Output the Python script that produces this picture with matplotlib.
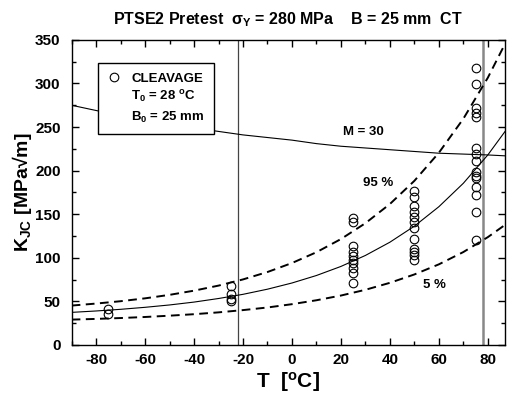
import matplotlib
matplotlib.use("Agg")
import matplotlib.pyplot as plt
from matplotlib.lines import Line2D
from matplotlib.ticker import MultipleLocator

plt.rcParams["font.family"] = ["Liberation Sans", "DejaVu Sans"]
plt.rcParams["font.weight"] = "bold"
plt.rcParams["axes.unicode_minus"] = False
plt.rcParams["mathtext.fontset"] = "custom"
plt.rcParams["mathtext.rm"] = "Liberation Sans"
plt.rcParams["mathtext.bf"] = "Liberation Sans:bold"
plt.rcParams["mathtext.it"] = "Liberation Sans:italic"

# measured cleavage data, T [C] / K_JC [MPa sqrt(m)]
t_m75 = [-75, -75]
k_m75 = [36, 41]
t_m25 = [-25, -25, -25, -25]
k_m25 = [50, 53, 58, 68]
t_25 = [25] * 10
k_25 = [71, 83, 88, 94, 98, 102, 107, 113, 141, 146]
t_50 = [50] * 12
k_50 = [98, 103, 107, 110, 122, 134, 141, 147, 153, 160, 170, 177]
t_75 = [75] * 15
k_75 = [121, 153, 172, 181, 191, 194, 198, 211, 219, 226, 261, 266, 272, 299, 318]

# curves
curve_t = [-90, -80, -70, -60, -50, -40, -30, -20, -10, 0, 10, 20, 30, 40, 50, 60, 70, 80, 87]
median_k = [37.4, 39.0, 40.9, 43.2, 45.9, 49.2, 53.3, 58.1, 64.0, 71.1, 79.7, 90.1,
            102.7, 117.9, 136.3, 158.6, 185.5, 218.0, 244.8]
p05_k = [29.1, 29.9, 30.9, 32.1, 33.6, 35.3, 37.4, 40.0, 43.0, 46.8, 51.3, 56.7,
         63.3, 71.3, 80.9, 92.5, 106.6, 123.7, 137.7]
p95_k = [45.2, 47.5, 50.2, 53.5, 57.5, 62.3, 68.1, 75.2, 83.7, 94.0, 106.4, 121.5,
         139.7, 161.7, 188.3, 220.5, 259.5, 306.6, 345.3]
m30_k = [275, 269, 263, 258, 253, 249, 245, 241, 238, 235, 231, 228, 226, 224, 222,
         220, 219, 218, 217]

t0_minus50 = -22
t0_plus50 = 78

fig = plt.figure(figsize=(5.08, 4.03), dpi=100)
ax = fig.add_axes([0.141, 0.144, 0.853, 0.757])

ax.axvline(t0_minus50, color="#444444", lw=0.9)
ax.axvline(t0_plus50, color="#888888", lw=1.8)

ax.plot(curve_t, m30_k, color="black", lw=0.8)
ax.plot(curve_t, median_k, color="black", lw=0.8)
ax.plot(curve_t, p05_k, color="black", lw=1.4, linestyle=(0, (4.5, 2.8)))
ax.plot(curve_t, p95_k, color="black", lw=1.4, linestyle=(0, (4.5, 2.8)))

for tt, kk in [(t_m75, k_m75), (t_m25, k_m25), (t_25, k_25), (t_50, k_50), (t_75, k_75)]:
    ax.plot(tt, kk, "o", ms=6.2, mfc="none", mec="black", mew=0.8, clip_on=False)

ax.text(29, 244, "M = 30", fontsize=9.5, fontweight="bold", ha="center", va="center")
ax.text(35, 186, "95 %", fontsize=9.5, fontweight="bold", ha="center", va="center")
ax.text(58, 69, "5 %", fontsize=9.5, fontweight="bold", ha="center", va="center")

handles = [
    Line2D([], [], marker="o", ls="none", ms=6.2, mfc="none", mec="black", mew=0.8),
    Line2D([], [], ls="none"),
    Line2D([], [], ls="none"),
]
labels = ["CLEAVAGE", "T$_\\mathbf{0}$ = 28 $^\\mathbf{o}$C", "B$_\\mathbf{0}$ = 25 mm"]
leg = ax.legend(handles, labels, loc="upper left", bbox_to_anchor=(0.061, 0.924),
                borderaxespad=0, fancybox=False, framealpha=1, edgecolor="black",
                handlelength=1.0, handletextpad=0.8, labelspacing=0.35,
                borderpad=0.7, prop={"size": 9.5, "weight": "bold"})
leg.get_frame().set_linewidth(1.0)

ax.set_xlim(-90, 87)
ax.set_ylim(0, 350)
ax.xaxis.set_major_locator(MultipleLocator(20))
ax.xaxis.set_minor_locator(MultipleLocator(10))
ax.yaxis.set_major_locator(MultipleLocator(50))
ax.yaxis.set_minor_locator(MultipleLocator(25))
ax.tick_params(which="both", direction="in", top=True, right=True, width=1.0, labelsize=11)
ax.tick_params(which="major", length=5)
ax.tick_params(which="minor", length=3)
ax.tick_params(axis="y", which="major", pad=8)
ax.tick_params(axis="x", which="major", pad=6)
for lab in ax.get_xticklabels() + ax.get_yticklabels():
    lab.set_fontweight("bold")
for sp in ax.spines.values():
    sp.set_linewidth(1.0)

ax.set_xlabel("T  [$^\\mathbf{o}$C]", fontsize=15, fontweight="bold", labelpad=2)
ax.set_ylabel("K$_\\mathbf{JC}$ [MPa√m]", fontsize=14, fontweight="bold", labelpad=1)
ax.set_title("PTSE2 Pretest  σ$_\\mathbf{Y}$ = 280 MPa    B = 25 mm  CT",
             fontsize=11.5, fontweight="bold", pad=11)

fig.savefig("out.png", dpi=100)
